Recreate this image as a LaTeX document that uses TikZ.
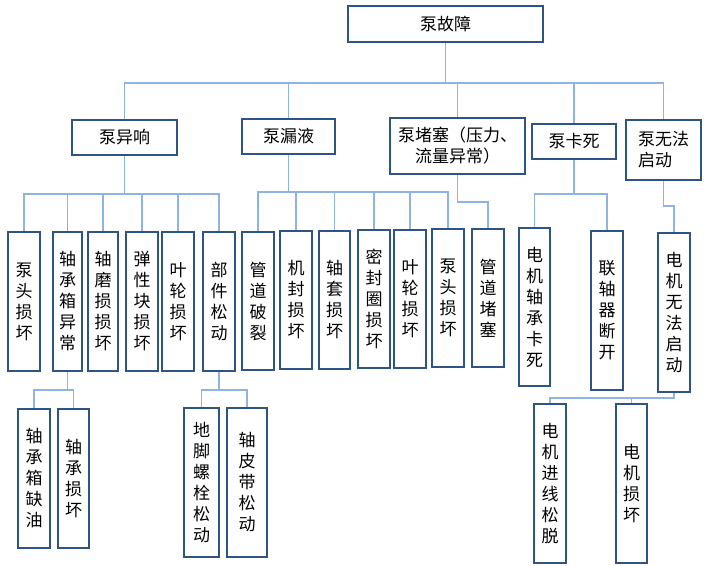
\documentclass[tikz,border=0pt]{standalone}
\usepackage{fontspec}
\newfontfamily\cjk{Noto Sans CJK SC}
\usepackage{xcolor}
\usepackage{tikz}
\usetikzlibrary{positioning, calc}
\definecolor{boxblue}{RGB}{46,84,132}
\definecolor{linkblue}{RGB}{141,180,226}
\tikzstyle{fault} = [rectangle, draw=boxblue, line width=2pt, fill=white, inner sep=0pt, align=center, font=\cjk\fontsize{17}{21}\selectfont]
\tikzstyle{cause} = [fault, minimum width=32pt, minimum height=139pt]
\tikzstyle{link} = [draw=linkblue, line width=1.3pt]

\begin{document}
\begin{tikzpicture}[x=1pt, y=-1pt]
    \useasboundingbox (0,0) rectangle (708,565);

    % Root
    \node (root) [fault, minimum width=195pt, minimum height=36pt] at (445.5,24) {泵故障};

    % Level 1
    \node (yx) [fault, minimum width=105pt, minimum height=35pt] at (124.5,137.5) {泵异响};
    \node (ly) [fault, minimum width=93pt, minimum height=35pt] at (288.5,136.5) {泵漏液};
    \node (ds) [fault, minimum width=135pt, minimum height=56pt] at (457.5,146) {泵堵塞（压力、\\流量异常）};
    \node (ks) [fault, minimum width=84pt, minimum height=35pt] at (574,141.5) {泵卡死};
    \node (wf) [fault, minimum width=75pt, minimum height=60pt, align=left] at (663.5,150) {泵无法\\启动};

    % Level 2 under yx
    \node (yx1) [cause] at (24,301.5) {泵\\头\\损\\坏};
    \node (yx2) [cause, minimum width=29pt] at (67.5,301.5) {轴\\承\\箱\\异\\常};
    \node (yx3) [cause, minimum width=30pt] at (103,301.5) {轴\\磨\\损\\损\\坏};
    \node (yx4) [cause] at (142,301.5) {弹\\性\\块\\损\\坏};
    \node (yx5) [cause] at (178,301.5) {叶\\轮\\损\\坏};
    \node (yx6) [cause] at (219,301.5) {部\\件\\松\\动};

    % Level 2 under ly
    \node (ly1) [cause, minimum height=138pt] at (258,301) {管\\道\\破\\裂};
    \node (ly2) [cause, minimum height=138pt] at (296,300) {机\\封\\损\\坏};
    \node (ly3) [cause, minimum width=31pt, minimum height=138pt] at (334.5,300) {轴\\套\\损\\坏};
    \node (ly4) [cause, minimum height=138pt] at (374,299) {密\\封\\圈\\损\\坏};
    \node (ly5) [cause, minimum height=138pt] at (410,299) {叶\\轮\\损\\坏};
    \node (ly6) [cause, minimum height=138pt] at (448,298) {泵\\头\\损\\坏};

    % Level 2 under ds, ks, wf
    \node (ds1) [cause, minimum height=138pt] at (488,298) {管\\道\\堵\\塞};
    \node (ks1) [cause, minimum width=31pt, minimum height=158pt] at (534.5,307) {电\\机\\轴\\承\\卡\\死};
    \node (ks2) [cause, minimum height=159pt] at (607,310.5) {联\\轴\\器\\断\\开};
    \node (wf1) [cause, minimum height=159pt] at (674,312.5) {电\\机\\无\\法\\启\\动};

    % Level 3
    \node (yx21) [cause] at (34,478.5) {轴\\承\\箱\\缺\\油};
    \node (yx22) [cause, minimum width=31pt] at (73.5,478.5) {轴\\承\\损\\坏};
    \node (yx61) [cause, minimum width=35pt, minimum height=149pt] at (201.5,482.5) {地\\脚\\螺\\栓\\松\\动};
    \node (yx62) [cause, minimum width=40pt, minimum height=149pt] at (247,482.5) {轴\\皮\\带\\松\\动};
    \node (wf11) [cause, minimum height=159pt] at (550,483.5) {电\\机\\进\\线\\松\\脱};
    \node (wf12) [cause, minimum width=31pt, minimum height=159pt] at (631.5,483.5) {电\\机\\损\\坏};

    % Links
    \foreach \c in {yx,ly,ds,ks,wf}
        \draw [link] (root.south) -- (root.south |- 0,83) -| (\c.north);
    \foreach \c in {yx1,yx2,yx3,yx4,yx5,yx6}
        \draw [link] (yx.south) -- (yx.south |- 0,194) -| (\c.north);
    \foreach \c in {ly1,ly2,ly3,ly4,ly5,ly6}
        \draw [link] (ly.south) -- (ly.south |- 0,192) -| (\c.north);
    \draw [link] (ds.south) -- (ds.south |- 0,202) -| (ds1.north);
    \foreach \c in {ks1,ks2}
        \draw [link] (ks.south) -- (ks.south |- 0,194) -| (\c.north);
    \draw [link] (wf.south) -- (wf.south |- 0,206) -| (wf1.north);
    \foreach \c in {yx21,yx22}
        \draw [link] (yx2.south) -- (yx2.south |- 0,390) -| (\c.north);
    \foreach \c in {yx61,yx62}
        \draw [link] (yx6.south) -- (yx6.south |- 0,390) -| (\c.north);
    \foreach \c in {wf11,wf12}
        \draw [link] (wf1.south) -- (wf1.south |- 0,398) -| (\c.north);
\end{tikzpicture}
\end{document}
